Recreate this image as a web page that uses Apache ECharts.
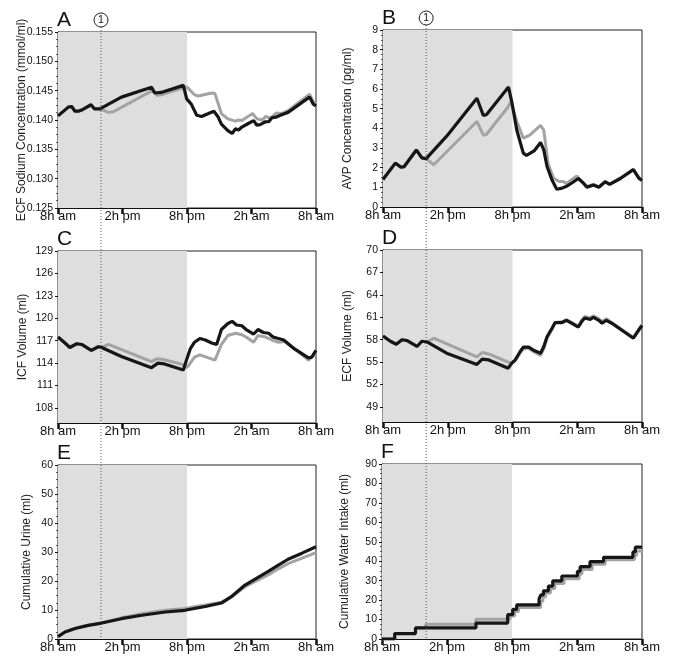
<!DOCTYPE html>
<html><head><meta charset="utf-8">
<script src="https://cdn.jsdelivr.net/npm/echarts@6/dist/echarts.min.js"></script>
<style>html,body{margin:0;padding:0;background:#fff}#c{width:685px;height:667px}</style>
</head><body><div id="c"></div>
<script>
// ---- data (hours after 8h am, value) ----
const xTickLabels = ['8h am', '2h pm', '8h pm', '2h am', '8h am'];
const panelLetters = ['A', 'B', 'C', 'D', 'E', 'F'];
const yNames = ['ECF Sodium Concentration (mmol/ml)', 'AVP Concentration (pg/ml)', 'ICF Volume (ml)', 'ECF Volume (ml)', 'Cumulative Urine (ml)', 'Cumulative Water Intake (ml)'];
const interventionHour = 4;
const lightPeriod = [0, 12];

const sodiumBlack = [[0,0.1407],[0.96,0.1422],[1.27,0.1423],[1.58,0.1415],[1.9,0.1415],[2.2,0.1417],[3.07,0.1426],[3.38,0.1419],[3.9,0.1419],[5.9,0.1439],[8.7,0.1456],[9.0,0.1446],[9.6,0.1447],[11.66,0.1459],[11.97,0.1436],[12.4,0.1427],[12.9,0.1408],[13.36,0.1406],[14.0,0.1411],[14.5,0.1415],[14.9,0.1405],[15.2,0.1393],[15.8,0.1382],[16.2,0.1377],[16.5,0.1385],[16.8,0.1383],[17.1,0.1388],[17.7,0.1394],[18.2,0.1399],[18.5,0.1391],[18.8,0.1392],[19.3,0.1397],[19.6,0.1397],[19.9,0.1404],[20.3,0.1405],[20.8,0.1409],[21.4,0.1413],[22.7,0.1430],[23.4,0.1439],[23.75,0.1427],[24,0.1424]];
const sodiumGray = [[0,0.1407],[0.96,0.1422],[1.27,0.1423],[1.58,0.1415],[1.9,0.1415],[2.2,0.1417],[3.07,0.1426],[3.38,0.1419],[3.9,0.1419],[4.68,0.1413],[5.15,0.1414],[8.85,0.1451],[9.2,0.1442],[9.6,0.1443],[11.66,0.1455],[12.0,0.1456],[12.7,0.1443],[13.05,0.1441],[14.3,0.1446],[14.6,0.1445],[15.2,0.1411],[15.8,0.1402],[16.5,0.1398],[16.8,0.1400],[17.1,0.1399],[17.5,0.1404],[18.1,0.1411],[18.5,0.1402],[19.0,0.1400],[19.3,0.1406],[19.8,0.1403],[20.3,0.1412],[20.8,0.1411],[21.4,0.1416],[22.7,0.1434],[23.4,0.1444],[23.75,0.1431],[24,0.1427]];

const avpBlack = [[0,1.4],[1.14,2.23],[1.67,2.02],[1.95,2.05],[3.09,2.9],[3.6,2.5],[4.0,2.46],[5.9,3.6],[8.7,5.53],[9.3,4.65],[9.6,4.7],[11.63,6.1],[11.95,5.3],[12.4,3.9],[13.0,2.74],[13.3,2.62],[14.0,2.85],[14.6,3.28],[14.9,2.9],[15.2,2.06],[15.65,1.39],[16.1,0.9],[16.6,0.96],[17.0,1.05],[17.5,1.22],[18.1,1.45],[18.6,1.2],[18.9,1.0],[19.5,1.12],[20.0,1.0],[20.6,1.28],[21.0,1.15],[22.0,1.45],[23.2,1.9],[23.7,1.47],[24,1.35]];
const avpGray = [[0,1.4],[1.14,2.23],[1.67,2.02],[1.95,2.05],[3.09,2.9],[3.6,2.5],[4.0,2.46],[4.7,2.15],[8.7,4.35],[9.3,3.65],[9.6,3.7],[11.6,5.1],[11.85,5.36],[12.4,4.35],[13.0,3.5],[13.6,3.65],[14.6,4.15],[14.9,3.9],[15.3,2.2],[15.8,1.47],[16.3,1.3],[16.7,1.3],[17.0,1.2],[17.96,1.58],[18.4,1.3],[18.9,1.05],[19.5,1.15],[20.0,1.02],[20.6,1.3],[21.0,1.17],[22.0,1.47],[23.2,1.92],[23.7,1.5],[24,1.38]];

const icfBlack = [[0,117.5],[0.65,116.7],[1.1,116.1],[1.74,116.6],[2.2,116.5],[3.1,115.7],[3.75,116.2],[4.06,116.1],[5.9,114.9],[8.7,113.4],[9.3,114.0],[9.9,113.9],[11.66,113.1],[11.9,114.2],[12.3,115.9],[12.7,116.8],[13.2,117.3],[13.7,117.1],[14.3,116.7],[14.76,116.5],[15.2,118.5],[15.8,119.3],[16.2,119.6],[16.6,119.1],[17.1,119.0],[17.5,118.5],[18.2,117.9],[18.6,118.5],[19.1,118.1],[19.6,118.0],[20.0,117.5],[20.5,117.3],[21.0,117.1],[22.0,115.9],[23.3,114.7],[23.6,114.8],[24,115.7]];
const icfGray = [[0,117.5],[0.65,116.7],[1.1,116.1],[1.74,116.6],[2.2,116.5],[3.1,115.7],[3.75,116.2],[4.06,116.1],[4.7,116.5],[8.7,114.2],[9.2,114.6],[9.8,114.5],[11.66,113.8],[12.0,113.4],[12.7,114.8],[13.2,115.1],[14.6,114.4],[15.2,116.5],[15.8,117.7],[16.5,118.0],[17.1,117.8],[17.5,117.5],[18.2,116.8],[18.6,117.7],[19.3,117.5],[19.9,117.1],[20.5,116.8],[21.1,116.9],[22.2,115.7],[23.3,114.4],[24,115.3]];

const ecfBlack = [[0,58.5],[0.68,57.8],[1.23,57.4],[1.76,58.0],[2.2,57.9],[3.15,57.1],[3.6,57.8],[4.07,57.7],[5.9,56.2],[8.7,54.7],[9.2,55.4],[9.8,55.3],[11.6,54.2],[11.95,54.9],[12.25,55.3],[12.7,56.4],[13.0,57.0],[13.5,57.0],[13.95,56.6],[14.6,56.2],[14.9,57.1],[15.2,58.4],[15.65,59.5],[15.95,60.3],[16.6,60.3],[17.0,60.6],[17.5,60.2],[18.1,59.7],[18.4,60.4],[18.7,60.9],[19.2,60.7],[19.5,61.0],[20.0,60.6],[20.3,60.2],[20.7,60.6],[21.2,60.2],[22.3,59.1],[23.2,58.2],[23.7,59.3],[24,59.9]];
const ecfGray = [[0,58.5],[0.68,57.8],[1.23,57.4],[1.76,58.0],[2.2,57.9],[3.15,57.1],[3.6,57.8],[4.07,57.7],[4.7,58.2],[8.7,55.7],[9.2,56.3],[9.8,56.1],[11.6,55.0],[11.95,54.8],[12.25,55.2],[12.7,56.2],[13.0,56.8],[13.5,56.9],[13.95,56.4],[14.6,55.9],[14.9,56.8],[15.2,58.2],[15.65,59.4],[15.95,60.3],[16.6,60.4],[17.0,60.7],[17.5,60.3],[18.1,59.8],[18.4,60.6],[18.7,61.1],[19.2,60.9],[19.5,61.2],[20.0,60.8],[20.3,60.4],[20.7,60.8],[21.2,60.3],[22.3,59.2],[23.2,58.3],[23.7,59.4],[24,60.0]];

const urineBlack = [[0,0.8],[0.65,2.4],[1.58,3.6],[2.8,4.7],[4.06,5.5],[5.9,7.0],[7.8,8.2],[10.0,9.3],[11.8,9.9],[13.7,11.2],[15.2,12.4],[16.2,14.8],[17.4,18.6],[18.3,20.6],[19.6,23.4],[20.5,25.5],[21.4,27.5],[22.7,29.6],[24,31.8]];
const urineGray = [[0,0.8],[0.65,2.4],[1.58,3.6],[2.8,4.7],[4.06,5.5],[5.9,7.3],[7.8,8.7],[10.0,9.9],[11.8,10.5],[13.7,11.7],[15.2,12.7],[16.2,14.6],[17.4,18.0],[18.3,19.8],[19.6,22.2],[20.5,24.2],[21.4,26.0],[22.7,27.9],[24,29.8]];

const waterBlack = [[0,0],[1.17,2.8],[3.09,5.7],[8.67,8.2],[11.6,12.5],[12.06,15.2],[12.43,17.5],[14.5,20.6],[14.66,22.7],[14.9,24.8],[15.36,27.2],[15.76,29.9],[16.6,32.4],[18.04,34.8],[18.29,37.2],[19.2,39.8],[20.45,42.0],[23.16,44.8],[23.38,47.2],[24,47.2]];
const waterGray = [[0,0],[1.17,2.8],[3.09,5.7],[4.05,7.6],[8.67,10.2],[11.8,11.8],[12.25,14.2],[12.6,16.2],[14.65,19.4],[14.85,21.6],[15.1,23.6],[15.55,26.0],[15.95,28.6],[16.8,31.0],[18.2,33.4],[18.45,35.8],[19.4,38.4],[20.6,40.8],[23.3,43.0],[23.5,45.3],[24,45.3]];

// ---- chart ----
const blackColor = '#161616', grayColor = '#a3a3a3';
const grids = [
  {left: 58, top: 32, width: 258, height: 176},
  {left: 383, top: 30, width: 259, height: 177},
  {left: 58, top: 251, width: 258, height: 172},
  {left: 383, top: 250, width: 259, height: 172},
  {left: 58, top: 465, width: 258, height: 174},
  {left: 382, top: 464, width: 260, height: 175}
];
const yCfg = [
  {min: 0.125, max: 0.155, interval: 0.005, fmt: v => v.toFixed(3), gap: 30},
  {min: 0, max: 9, interval: 1, fmt: v => String(v), gap: 29},
  {min: 106, max: 129, custom: [108,111,114,117,120,123,126,129], gap: 29},
  {min: 47, max: 70, custom: [49,52,55,58,61,64,67,70], gap: 29},
  {min: 0, max: 60, interval: 10, fmt: v => String(v), gap: 25},
  {min: 0, max: 90, interval: 10, fmt: v => String(v), gap: 31}
];
const seriesPairs = [[sodiumGray, sodiumBlack], [avpGray, avpBlack], [icfGray, icfBlack], [ecfGray, ecfBlack], [urineGray, urineBlack], [waterGray, waterBlack]];
const FONT = 'Liberation Sans';

const chart = echarts.init(document.getElementById('c'), null, {renderer: 'canvas'});
const option = {
  animation: false,
  backgroundColor: '#fff',
  textStyle: {fontFamily: FONT},
  title: grids.map((g, i) => ({
    text: panelLetters[i], left: g.left - 1, top: g.top - 22,
    textStyle: {fontSize: 21, fontWeight: 'normal', color: '#111', fontFamily: FONT}, padding: 0
  })),
  grid: grids.map(g => Object.assign({show: true, borderColor: '#222', borderWidth: 1, backgroundColor: 'transparent'}, g)),
  xAxis: grids.map((g, i) => ({
    gridIndex: i, type: 'value', min: 0, max: 24, interval: 6,
    axisLine: {show: true, onZero: false, lineStyle: {color: '#111', width: 1}},
    axisTick: {show: true, length: 6, lineStyle: {color: '#111', width: 2.5}},
    axisLabel: {formatter: v => xTickLabels[Math.round(v / 6)], fontSize: 13, color: '#111', margin: 2, fontFamily: FONT},
    splitLine: {show: false}
  })),
  yAxis: yCfg.map((c, i) => {
    const ax = {
      gridIndex: i, type: 'value', min: c.min, max: c.max,
      name: yNames[i], nameLocation: 'middle', nameGap: c.gap, nameMoveOverlap: false,
      nameTextStyle: {fontSize: 12, color: '#222', fontFamily: FONT},
      axisLine: {show: true, lineStyle: {color: '#111', width: 1}},
      axisTick: {show: true, length: 3, lineStyle: {color: '#111'}},
      axisLabel: {fontSize: 10.5, color: '#111', margin: 5, fontFamily: FONT},
      splitLine: {show: false}
    };
    if (c.custom) {
      ax.axisLabel.customValues = c.custom;
      ax.axisTick.customValues = c.custom;
    } else {
      ax.interval = c.interval;
      ax.axisLabel.formatter = c.fmt;
      ax.minorTick = {show: true, splitNumber: 4, length: 2, lineStyle: {color: '#555'}};
    }
    return ax;
  }),
  series: []
};
seriesPairs.forEach((pair, i) => {
  const step = i === 5 ? 'end' : false;
  option.series.push({
    type: 'line', xAxisIndex: i, yAxisIndex: i, data: pair[0], showSymbol: false, step: step,
    lineStyle: {color: grayColor, width: 3}, z: 3,
    markArea: {silent: true, itemStyle: {color: '#dedede'}, data: [[{xAxis: lightPeriod[0]}, {xAxis: lightPeriod[1]}]]}
  });
  option.series.push({
    type: 'line', xAxisIndex: i, yAxisIndex: i, data: pair[1], showSymbol: false, step: step,
    lineStyle: {color: blackColor, width: 3.2}, z: 4
  });
});
chart.setOption(option);

// intervention marker (dotted line + circled 1) placed via axis scales
const graphics = [];
[[0, 4], [1, 5]].forEach(([topIdx, botIdx]) => {
  const x = chart.convertToPixel({xAxisIndex: topIdx}, interventionHour);
  const yTop = chart.convertToPixel({yAxisIndex: topIdx}, yCfg[topIdx].max);
  const yBot = chart.convertToPixel({yAxisIndex: botIdx}, yCfg[botIdx].min);
  graphics.push({type: 'line', z: 10, shape: {x1: x, y1: yTop - 5, x2: x, y2: yBot}, style: {stroke: '#555', lineWidth: 1, lineDash: [1, 2]}});
  graphics.push({type: 'circle', z: 10, shape: {cx: x, cy: yTop - 12, r: 7}, style: {fill: '#fff', stroke: '#222', lineWidth: 1}});
  graphics.push({type: 'text', z: 11, x: x, y: yTop - 12, style: {text: '1', fontSize: 10.5, fontFamily: FONT, fill: '#111', align: 'center', verticalAlign: 'middle'}});
});
chart.setOption({graphic: graphics});
</script></body></html>
